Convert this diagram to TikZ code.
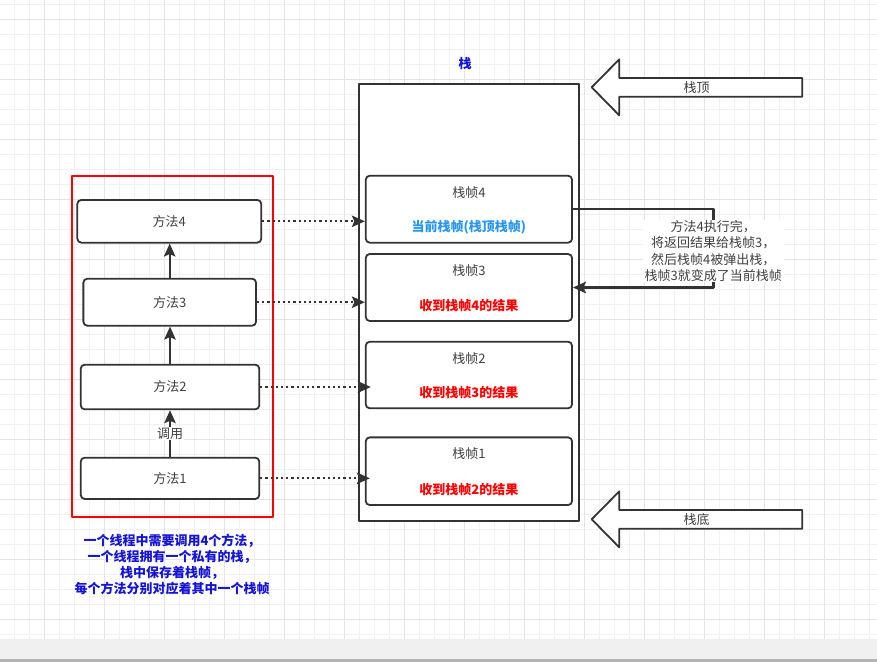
\documentclass[tikz,border=0pt]{standalone}
\usepackage{fontspec}
\setmainfont{Noto Sans CJK SC}
\usetikzlibrary{arrows.meta}
\definecolor{linegray}{HTML}{333333}
\definecolor{textgray}{HTML}{404040}
\definecolor{gridminor}{HTML}{F1F1F1}
\definecolor{gridmajor}{HTML}{E4E4E4}
\definecolor{barfill}{HTML}{F0F0F0}
\definecolor{bardark}{HTML}{B4B4B4}
\definecolor{titleblue}{RGB}{20,20,215}
\definecolor{curblue}{RGB}{40,150,240}
\definecolor{resred}{HTML}{FF0000}
\begin{document}
\begin{tikzpicture}[x=1pt,y=-1pt,>={Stealth[length=13pt,width=11.5pt,inset=2.5pt]},line join=round,font=\fontsize{13}{16.5}\selectfont,
	methodbox/.style={draw=linegray,line width=1.8pt,rounded corners=4pt,fill=white,text=textgray,inner sep=0pt},
	framebox/.style={draw=linegray,line width=1.8pt,rounded corners=4pt,fill=white,inner sep=0pt},
	dotarrow/.style={->,draw=linegray,line width=2pt,dash pattern=on 2.2pt off 3pt},
	callarrow/.style={->,draw=linegray,line width=1.8pt}]
	\useasboundingbox (0,0) rectangle (877,662);
	% grid
	\foreach \gx in {0,...,57} \draw [gridminor,line width=1pt] ({14.3+15*\gx},0)--({14.3+15*\gx},639);
	\foreach \gy in {0,...,42} \draw [gridminor,line width=1pt] (0,{4.3+15*\gy})--(877,{4.3+15*\gy});
	\foreach \gx in {0,...,13} \draw [gridmajor,line width=1pt] ({44.3+60*\gx},0)--({44.3+60*\gx},639);
	\foreach \gy in {0,...,10} \draw [gridmajor,line width=1pt] (0,{19.3+60*\gy})--(877,{19.3+60*\gy});
	\fill [barfill] (0,639) rectangle (877,662);
	\fill [bardark] (0,658.5) rectangle (877,662);
	% thread: methods
	\draw [resred,line width=2pt] (71.7,175.7) rectangle (272.7,516.7);
	\node [methodbox,minimum width=184pt,minimum height=42.7pt] (m4) at (169.3,221.3) {方法4};
	\node [methodbox,minimum width=172.7pt,minimum height=47pt] (m3) at (169.7,302.2) {方法3};
	\node [methodbox,minimum width=178.6pt,minimum height=44.6pt] (m2) at (170,387) {方法2};
	\node [methodbox,minimum width=178.6pt,minimum height=41.3pt] (m1) at (170,478.3) {方法1};
	\draw [callarrow] (m3.north)--(m3.north |- m4.south);
	\draw [callarrow] (m2.north)--(m2.north |- m3.south);
	\draw [callarrow] (m1.north)--(m1.north |- m2.south) node [midway,fill=white,text=textgray,inner sep=1pt] (call) {调用};
	\node [font=\fontsize{13}{16.2}\selectfont\bfseries,text=titleblue,align=center] (threadnote) at (172,564.6) {一个线程中需要调用4个方法，\\一个线程拥有一个私有的栈，\\栈中保存着栈帧，\\每个方法分别对应着其中一个栈帧};
	% stack
	\node [draw=linegray,line width=2pt,fill=white,minimum width=220.5pt,minimum height=437.2pt,inner sep=0pt] (stack) at (469,302.1) {};
	\node [font=\fontsize{13}{16.5}\selectfont\bfseries,text=titleblue] (stacklabel) at (465,63.3) {栈};
	\foreach \i/\cy/\h/\res/\col in {4/209.2/67/当前栈帧(栈顶栈帧)/curblue,3/287.5/67/收到栈帧4的结果/resred,2/375/66.6/收到栈帧3的结果/resred,1/471.2/67.7/收到栈帧2的结果/resred}{
		\node [framebox,minimum width=206.3pt,minimum height=\h pt] (f\i) at (468.9,\cy) {};
		\node [text=textgray] (t\i) at ([yshift=-17.5pt]f\i.north) {栈帧\i};
		\node [text=\col,font=\fontsize{13}{16.5}\selectfont\bfseries] (r\i) at ([yshift=16.5pt]f\i.south) {\res};
	}
	\draw [dotarrow] (m4.east)--(m4.east -| f4.west);
	\draw [dotarrow] (m3.east)--(m3.east -| f3.west);
	\draw [dotarrow,shorten >=-6pt] (m2.east)--(m2.east -| f2.west);
	\draw [dotarrow,shorten >=-5pt] (m1.east)--(m1.east -| f1.west);
	% pop of frame 4
	\coordinate (bend) at (713.3,251);
	\draw [->,linegray,line width=2.4pt] (f4.east)--(f4.east -| bend)--(f3.east -| bend)--(f3.east);
	\node [fill=white,text=textgray,align=center,inner xsep=2pt,inner ysep=0pt] (popnote) at (bend) {方法4执行完，\\将返回结果给栈帧3，\\然后栈帧4被弹出栈，\\栈帧3就变成了当前栈帧};
	% top and bottom markers
	\foreach \y/\txt/\nm in {87.3/栈顶/top,519.3/栈底/bottom}{
		\draw [linegray,line width=1.8pt,fill=white] (591.7,\y)--++(27.6,-28)--++(0,18.7)--++(183,0)--++(0,18.7)--++(-183,0)--++(0,18.7)--cycle;
		\node [text=textgray] (\nm) at (696.7,\y) {\txt};
	}
\end{tikzpicture}
\end{document}
